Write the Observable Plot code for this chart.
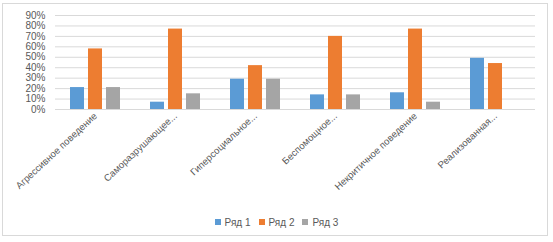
<!DOCTYPE html>
<html><head><meta charset="utf-8">
<script src="https://cdn.jsdelivr.net/npm/d3@7"></script>
<script src="https://cdn.jsdelivr.net/npm/@observablehq/plot@0.6"></script>
<style>
body{margin:0;background:#fff;font-family:"Liberation Sans",Arial,sans-serif;}
#wrap{position:relative;width:553px;height:242px;overflow:hidden;}
#frame{position:absolute;left:2px;top:3px;width:546px;height:233px;border:1px solid #d9d9d9;box-sizing:border-box;}
#chart{position:absolute;left:0;top:0;}
#legend{position:absolute;left:0;width:553px;top:217px;text-align:center;font-size:10px;color:#595959;}
#legend span.item{margin:0 4px;}
#legend span.sw{display:inline-block;width:6px;height:6px;margin-right:4px;vertical-align:1px;}
</style></head>
<body>
<div id="wrap"><div id="frame"></div><div id="chart"></div><div id="legend"></div></div>
<script>
const categories = ["Агрессивное поведение","Саморазрушающее...","Гиперсоциальное...","Беспомощное...","Некритичное поведение","Реализованная..."];
const seriesNames = ["Ряд 1","Ряд 2","Ряд 3"];
const series1 = [0.21,0.07,0.29,0.14,0.16,0.49];
const series2 = [0.58,0.77,0.42,0.70,0.77,0.44];
const series3 = [0.21,0.15,0.29,0.14,0.07,0];
const colors = ["#5B9BD5","#ED7D31","#A5A5A5"];
const yTicks = [0,0.1,0.2,0.3,0.4,0.5,0.6,0.7,0.8,0.9];

const allSeries = [series1,series2,series3];
const tables = allSeries.map((vals,si)=>vals.map((v,ci)=>({cat:categories[ci],series:seriesNames[si],value:v})));
const offsets = [-18,0,18];

const chart = Plot.plot({
  width:553, height:205,
  marginTop:15, marginBottom:96, marginLeft:55, marginRight:18,
  style:{fontFamily:"'Liberation Sans', Arial, sans-serif", fontSize:"10px", color:"#595959", background:"transparent"},
  x:{domain:categories, padding:0, label:null},
  y:{domain:[0,0.9]},
  color:{domain:seriesNames, range:colors},
  marks:[
    Plot.ruleY(yTicks,{y:d=>d, stroke:"#d9d9d9", strokeWidth:1}),
    Plot.axisY(yTicks,{tickFormat:d=>Math.round(d*100)+"%", tickSize:0, tickPadding:10, fill:"#595959", fontSize:10, label:null}),
    ...tables.map((t,i)=>Plot.barY(t,{x:"cat", y:"value", fill:"series", insetLeft:33, insetRight:33, dx:offsets[i]})),
    Plot.axisX({tickRotate:-43, tickSize:0, tickPadding:5, fill:"#595959", fontSize:9.6, label:null})
  ]
});
document.getElementById("chart").appendChild(chart);

const lg = document.getElementById("legend");
seriesNames.forEach((s,i)=>{
  const item=document.createElement("span");item.className="item";
  const sw=document.createElement("span");sw.className="sw";sw.style.background=colors[i];
  item.appendChild(sw);item.appendChild(document.createTextNode(s));
  lg.appendChild(item);
});
</script>
</body></html>
